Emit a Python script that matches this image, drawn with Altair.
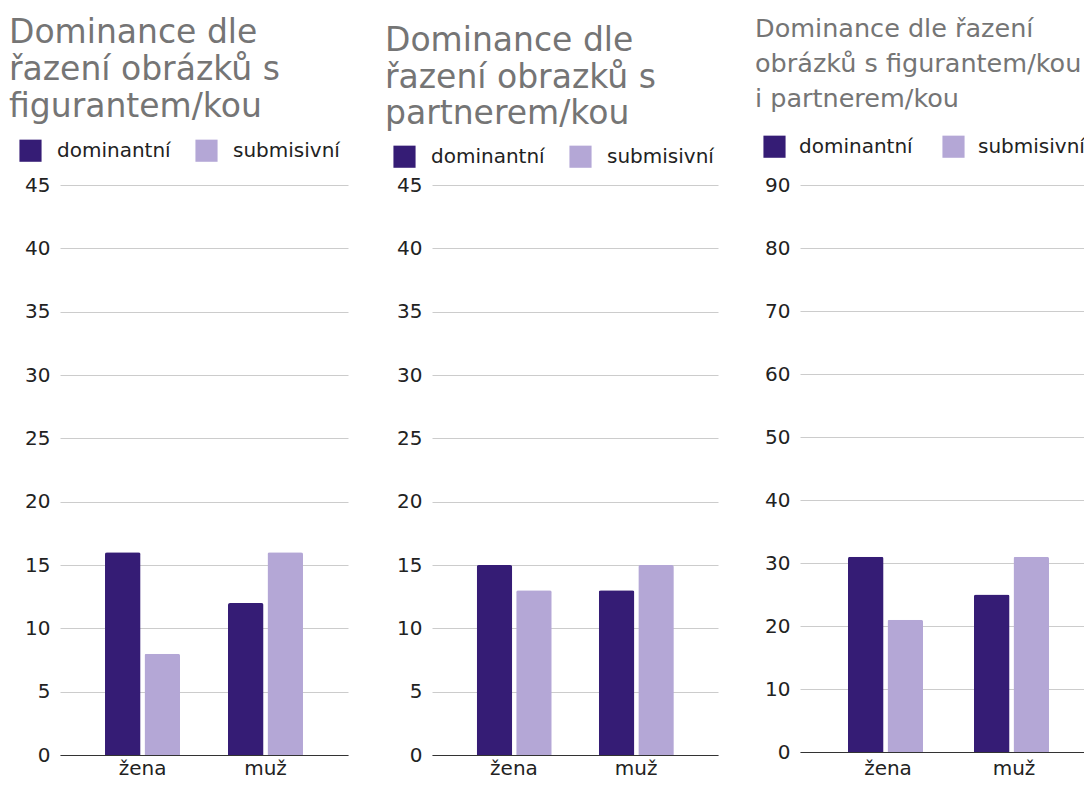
import altair as alt
import pandas as pd

categories = ["žena", "muž"]
series = ["dominantní", "submisivní"]

p1_dominantni = [16, 12]
p1_submisivni = [8, 16]
p2_dominantni = [15, 13]
p2_submisivni = [13, 15]
p3_dominantni = [31, 25]
p3_submisivni = [21, 31]

title1 = ["Dominance dle", "řazení obrázků s", "figurantem/kou"]
title2 = ["Dominance dle", "řazení obrazků s", "partnerem/kou"]
title3 = ["Dominance dle řazení", "obrázků s figurantem/kou", "i partnerem/kou"]

colors = ["#351c75", "#b4a7d6"]
FONT = "DejaVu Sans"

CANVAS_W = 1076
CANVAS_H = 771
PAD_L = 52
PAD_T = 177


def frame(dom, sub):
    rows = []
    for i, c in enumerate(categories):
        rows.append({"pohlaví": c, "typ": series[0], "počet": dom[i]})
        rows.append({"pohlaví": c, "typ": series[1], "počet": sub[i]})
    return pd.DataFrame(rows)


def panel(df, title, ymax, ystep, width, height, title_size, line_h, title_dx, title_off,
          leg_x, leg_y, lab_off=15, col_pad=24, xlab_pad=3, pad_in=0.39, pad_out=0.366):
    return alt.Chart(df).mark_bar(cornerRadiusTopLeft=2, cornerRadiusTopRight=2).encode(
        x=alt.X("pohlaví:N", sort=categories, title=None,
                scale=alt.Scale(paddingInner=pad_in, paddingOuter=pad_out),
                axis=alt.Axis(labelAngle=0, ticks=False, domainColor="#333333", domainWidth=1,
                              labelFontSize=20, labelColor="#222222", labelFont=FONT,
                              labelPadding=xlab_pad, grid=False)),
        xOffset=alt.XOffset("typ:N", sort=series, scale=alt.Scale(paddingInner=0.1)),
        y=alt.Y("počet:Q", title=None, scale=alt.Scale(domain=[0, ymax], nice=False),
                axis=alt.Axis(values=list(range(0, ymax + 1, ystep)), domain=False, ticks=False,
                              gridColor="#cccccc", labelFontSize=20, labelColor="#222222",
                              labelFont=FONT, labelPadding=10)),
        color=alt.Color("typ:N", sort=series, scale=alt.Scale(domain=series, range=colors),
                        legend=alt.Legend(title=None, orient="none", legendX=leg_x, legendY=leg_y,
                                          direction="horizontal", symbolType="square",
                                          symbolSize=490, symbolStrokeWidth=0, symbolOpacity=1,
                                          labelFontSize=20, labelFont=FONT, labelColor="#222222",
                                          labelOffset=lab_off, columnPadding=col_pad)),
    ).properties(
        width=width, height=height,
        title=alt.TitleParams(text=title, anchor="start", frame="group", dx=title_dx,
                              fontSize=title_size, lineHeight=line_h, font=FONT,
                              fontWeight="normal", color="#757575", offset=title_off),
    )


c1 = panel(frame(p1_dominantni, p1_submisivni), title1, 45, 5, 288, 570, 33, 37, -51, 15, -41, -46)
c2 = panel(frame(p2_dominantni, p2_submisivni), title2, 45, 5, 286, 570, 33, 36.5, -47, 14, -39, -40)
c3 = panel(frame(p3_dominantni, p3_submisivni), title3, 90, 10, 302, 567, 25.5, 35, -45, 23, -37, -50,
           lab_off=13, col_pad=29, xlab_pad=6, pad_in=0.365, pad_out=0.381)

chart = alt.hconcat(
    c1, c2, c3, spacing=37,
    autosize=alt.AutoSizeParams(type="none"),
    padding={"left": PAD_L, "top": PAD_T, "right": CANVAS_W - PAD_L, "bottom": CANVAS_H - PAD_T},
).resolve_scale(
    x="independent", y="independent", color="independent"
).resolve_legend(color="independent").configure_view(stroke=None)

chart.save("out.html", embed_options={"renderer": "svg", "actions": False})
